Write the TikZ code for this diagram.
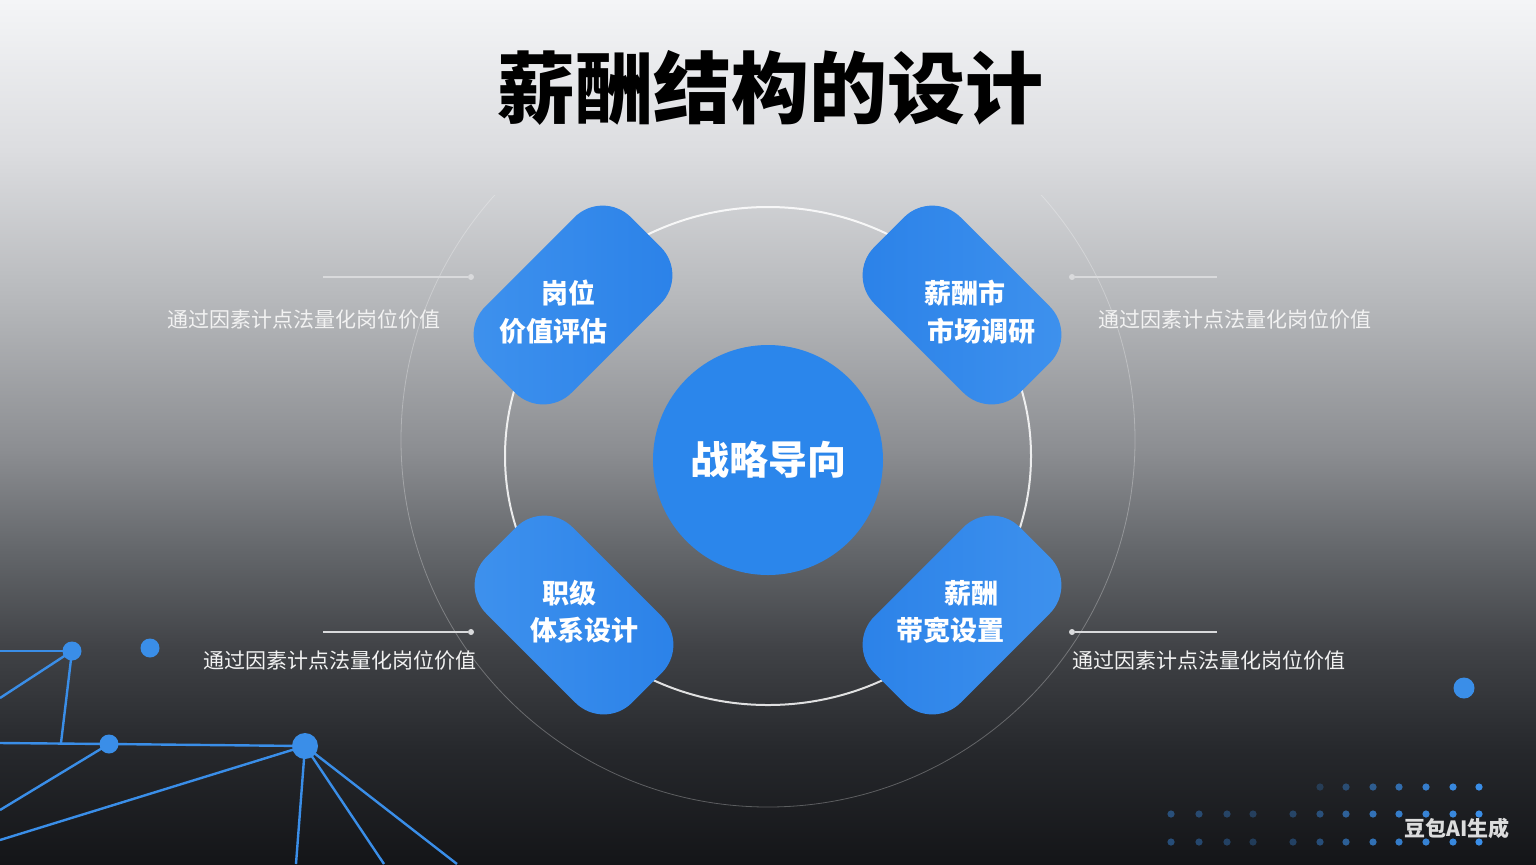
\documentclass[tikz,border=0pt]{standalone}
\usepackage{fontspec}
\setmainfont{Noto Sans CJK SC}
\usetikzlibrary{shapes.geometric}
\definecolor{bg1}{HTML}{F4F5F7}
\definecolor{bg2}{HTML}{DCDDE0}
\definecolor{bg3}{HTML}{B6B8BB}
\definecolor{bg4}{HTML}{8C8E92}
\definecolor{bg5}{HTML}{64676B}
\definecolor{bg6}{HTML}{404246}
\definecolor{bg7}{HTML}{26282C}
\definecolor{bgK}{HTML}{141518}
\definecolor{pdark}{HTML}{2A81E8}
\definecolor{plight}{HTML}{3F92EE}
\definecolor{cblue}{HTML}{2B86EB}
\definecolor{nblue}{HTML}{3A8EE8}
\definecolor{desc}{HTML}{F2F2F2}
\definecolor{conn}{HTML}{D9DADC}
\pgfdeclareverticalshading{bgshade}{100bp}{color(0bp)=(bgK); color(25bp)=(bgK); color(31.6bp)=(bg7); color(37.4bp)=(bg6); color(43.2bp)=(bg5); color(49bp)=(bg4); color(57.6bp)=(bg3); color(66.3bp)=(bg2); color(75bp)=(bg1); color(100bp)=(bg1)}
\begin{document}
\begin{tikzpicture}[x=0.5pt,y=-0.5pt,
  petal/.style={minimum width=103pt, minimum height=61pt, inner sep=0pt, rounded corners=20pt, draw=none},
  ptext/.style={text=white, font=\bfseries\fontsize{13.5pt}{16pt}\selectfont, inner sep=0pt},
  dtext/.style={text=desc, font=\fontsize{10.5pt}{13pt}\selectfont, inner sep=0pt},
  conn/.style={draw=conn, line width=0.7pt},
  cdot/.style={circle, fill=conn, inner sep=0pt, minimum size=3pt},
  net/.style={draw=nblue, line width=1.2pt},
  ndot/.style={circle, fill=nblue, inner sep=0pt, minimum size=#1},
  gdot/.style={circle, fill=nblue, inner sep=0pt, minimum size=3.6pt, opacity=#1},
  ring/.style={draw=white, draw opacity=0.85, line width=1pt},
  outerring/.style={draw=white, draw opacity=0.28, line width=0.4pt}
]
\useasboundingbox (0,0) rectangle (1536,864);
\fill[shading=bgshade] (0,0) rectangle (1536,864);

% title
\node[font=\bfseries\fontsize{39pt}{44pt}\selectfont, text=black, inner sep=0pt] (title) at (770,88) {薪酬结构的设计};

% rings
\begin{scope}
\clip (0,195) rectangle (1536,864);
\draw[outerring] (768,440) circle[radius=367];
\end{scope}
\draw[ring] (768,456) ellipse[x radius=263, y radius=249];

% petals
\node[petal, rotate=45, left color=plight, right color=pdark] (p1) at (573,305) {};
\node[petal, rotate=-45, left color=pdark, right color=plight] (p2) at (962,305) {};
\node[petal, rotate=-45, left color=plight, right color=pdark] (p3) at (574,615) {};
\node[petal, rotate=45, left color=pdark, right color=plight] (p4) at (962,615) {};

% center
\node[circle, fill=cblue, minimum size=115pt, inner sep=0pt] (c) at (768,460) {};
\node[text=white, font=\bfseries\fontsize{19.5pt}{22pt}\selectfont, inner sep=0pt] (ct) at (768,460) {战略导向};

% petal texts
\node[ptext] (t1a) at (568,293) {岗位};
\node[ptext] (t1b) at (553,331) {价值评估};
\node[ptext] (t2a) at (965,293) {薪酬市};
\node[ptext] (t2b) at (981,331) {市场调研};
\node[ptext] (t3a) at (569,593) {职级};
\node[ptext] (t3b) at (584,630) {体系设计};
\node[ptext] (t4a) at (971,593) {薪酬};
\node[ptext] (t4b) at (950,630) {带宽设置};

% connectors
\coordinate (e1) at (323,277);
\node[cdot] (d1) at (471,277) {};
\draw[conn] (e1) -- (d1);
\coordinate (e2) at (1217,277);
\node[cdot] (d2) at (1072,277) {};
\draw[conn] (d2) -- (e2);
\coordinate (e3) at (323,632);
\node[cdot] (d3) at (471,632) {};
\draw[conn] (e3) -- (d3);
\coordinate (e4) at (1217,632);
\node[cdot] (d4) at (1072,632) {};
\draw[conn] (d4) -- (e4);

% descriptions
\node[dtext, anchor=west] (s1) at (167,320) {通过因素计点法量化岗位价值};
\node[dtext, anchor=west] (s2) at (1098,320) {通过因素计点法量化岗位价值};
\node[dtext, anchor=west] (s3) at (203,661) {通过因素计点法量化岗位价值};
\node[dtext, anchor=west] (s4) at (1072,661) {通过因素计点法量化岗位价值};

% network decoration
\coordinate (w1) at (0,651);
\coordinate (w2) at (0,698);
\coordinate (w3) at (61,743);
\coordinate (w4) at (0,743);
\coordinate (w5) at (0,810);
\coordinate (w6) at (0,840);
\coordinate (b1) at (296,864);
\coordinate (b2) at (384,864);
\coordinate (b3) at (457,864);
\coordinate (nA) at (72,651);
\coordinate (nC) at (109,744);
\coordinate (nD) at (305,746);
\draw[net] (w1) -- (nA);
\draw[net] (w2) -- (nA);
\draw[net] (nA) -- (w3);
\draw[net] (w4) -- (nC) -- (nD);
\draw[net] (w5) -- (nC);
\draw[net] (w6) -- (nD);
\draw[net] (nD) -- (b1);
\draw[net] (nD) -- (b2);
\draw[net] (nD) -- (b3);
\node[ndot=9.5pt] (a) at (nA) {};
\node[ndot=9.5pt] (b) at (150,648) {};
\node[ndot=9.5pt] (cc) at (nC) {};
\node[ndot=13pt] (d) at (nD) {};
\node[ndot=10.5pt] (r) at (1464,688) {};

% dot grid
\foreach \x/\o in {1320/0.25,1346/0.4,1373/0.55,1399/0.7,1426/0.85,1453/0.95,1479/1}
  \node[gdot=\o] at (\x,787) {};
\foreach \x/\o in {1171/0.45,1199/0.4,1227/0.35,1253/0.3,1293/0.35,1320/0.45,1346/0.6,1373/0.75,1399/0.85,1426/0.9,1453/0.95,1479/1}{
  \node[gdot=\o] at (\x,814) {};
  \node[gdot=\o] at (\x,842) {};
}

% watermark
\node[text=white, text opacity=0.85, font=\bfseries\fontsize{10.5pt}{12pt}\selectfont, inner sep=0pt] (wm) at (1457,828) {豆包AI生成};
\end{tikzpicture}
\end{document}
